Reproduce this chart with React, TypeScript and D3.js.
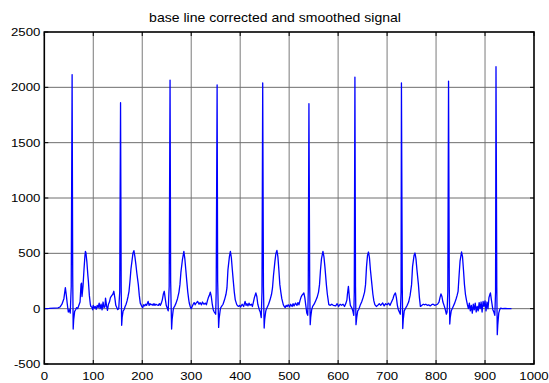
import * as d3 from "d3";

// sample index / amplitude pairs (baseline corrected ECG)
const ecgPoints: [number, number][] = [
  // beats 1-2
  [0, 0], [10, 2], [20, 5], [28, 8], [32, 15], [36, 40], [40, 90], [43, 190], [45, 120], [47, 40], [49, -30],
  [51, -10], [53, -40], [55, 200], [56.8, 2115], [58, 300], [59, -184], [60, -100], [62, -24], [64, -10], [66, 10],
  [68, 0], [71, 36], [73, 60], [75, 220], [76, 230], [77, 110], [79, 200], [81, 350], [83, 480], [84, 518],
  [85, 505], [87, 420], [89, 300], [90, 250], [92, 120], [94, 40], [95, 20], [97, 15], [99, -10],
  [100, 30], [102, 5], [104, 20], [106, -5], [108, 30], [110, 10], [112, 50], [114, 0], [116, 40], [118, -10],
  [120, 60], [122, 10], [124, 20], [125, 96], [127, 30], [129, -15], [131, 40], [133, 60], [135, 100], [138, 120],
  [140, 130], [142, 157], [144, 100], [146, 30], [148, 10], [150, -9], [152, 0], [154, 150], [155.7, 1861],
  [157, 200], [158, -150], [159, -80], [161, -20], [163, -9], [165, 20], [167, 40], [169, 70], [171, 110],
  [173, 157], [175, 250], [177, 360], [179, 430], [181, 500], [183, 524], [185, 470], [187, 400], [189, 320],
  [192, 217], [194, 120], [196, 50], [199, 21],
  // beats 3-4
  [201, 10], [203, 35], [205, 25], [207, 40], [209, 30], [212, 66], [214, 30], [216, 45], [218, 35], [220, 40],
  [222, 30], [224, 45], [226, 30], [228, 40], [230, 35], [233, 30], [235, 45], [237, 30], [239, 50], [241, 80],
  [243, 130], [245, 157], [247, 90], [249, 30], [251, 6], [253, -20], [255, 200], [256.8, 2066], [258, 250],
  [260, -184], [261, -100], [263, -20], [264, 6], [266, 20], [269, 50], [272, 90], [275, 150], [277, 217],
  [279, 330], [282, 440], [285, 518], [287, 450], [289, 350], [291, 247], [293, 150], [295, 80], [296, 51],
  [298, 20],
  [300, 0], [302, 20], [304, 40], [306, 55], [308, 35], [310, 50], [313, 66], [316, 40], [318, 55], [321, 35],
  [323, 60], [326, 40], [329, 50], [331, 35], [333, 70], [335, 100], [337, 120], [339, 150], [341, 110],
  [343, 40], [345, -9], [347, -30], [350, -50], [351, 150], [352.9, 2021], [354, 250], [356, -169], [357, -90],
  [359, -20], [360, 6], [362, 20], [365, 40], [368, 80], [371, 130], [373, 187], [375, 350], [378, 470],
  [380, 518], [382, 460], [384, 350], [386, 247], [388, 150], [390, 80], [393, 36], [395, 25], [397, 21],
  // beats 5-6
  [399, 30], [401, 15], [404, 40], [407, 20], [410, 66], [412, 30], [414, 45], [416, 25], [418, 50], [420, 30],
  [423, 40], [425, 20], [427, 60], [429, 100], [432, 142], [434, 110], [436, 40], [439, -9], [441, -30],
  [443, -80], [444.5, 150], [446, 2039], [447.5, 200], [449, -175], [450, -100], [452, -30], [453, -9],
  [455, 10], [458, 40], [461, 80], [464, 130], [466, 187], [468, 300], [471, 430], [473, 500], [475, 527],
  [477, 470], [479, 350], [481, 217], [483, 150], [485, 90], [488, 36], [490, 20], [492, 10], [494, 30],
  [496, 20],
  [498, 35], [501, 15], [503, 40], [506, 20], [508, 45], [510, 25], [513, 50], [516, 30], [518, 55], [520, 35],
  [522, 70], [524, 100], [526, 120], [528, 130], [530, 142], [532, 100], [534, 30], [536, -39], [538, -60],
  [539, 150], [540.4, 1852], [542, 200], [543, -145], [544, -80], [546, -10], [548, 21], [551, 40], [554, 70],
  [557, 100], [560, 150], [562, 217], [564, 350], [566, 450], [569, 518], [571, 470], [573, 380], [576, 217],
  [578, 130], [581, 36], [584, 30], [587, 40], [590, 30],
  // beats 7-8
  [595, 25], [598, 45], [601, 20], [604, 40], [607, 30], [610, 40], [613, 20], [616, 50], [618, 80], [619, 130],
  [621, 202], [623, 100], [625, 30], [628, 6], [630, -20], [632, -60], [633, 150], [634.3, 2093], [635.5, 200],
  [636.5, -145], [638, -80], [640, -20], [642, -9], [645, 30], [648, 60], [651, 100], [654, 150], [656, 217],
  [658, 380], [660, 480], [662, 512], [664, 460], [666, 350], [669, 217], [671, 130], [673, 70], [675, 36],
  [678, 20], [681, 30], [684, 45], [687, 30],
  [691, 51], [694, 25], [697, 45], [700, 35], [703, 50], [706, 30], [709, 60], [712, 90], [714, 120], [717, 142],
  [719, 100], [721, 30], [723, -9], [725, -30], [727, -50], [728.5, 150], [729.3, 2039], [731, 200],
  [732, -180], [733, -100], [735, -20], [738, 6], [741, 30], [744, 60], [747, 120], [750, 217], [752, 380],
  [755, 480], [757, 503], [759, 450], [761, 350], [764, 217], [766, 100], [768, 21], [771, 30], [774, 40],
  [777, 35],
  // beats 9-10
  [779, 40], [782, 30], [785, 35], [788, 25], [791, 36], [794, 40], [797, 30], [800, 35], [803, 40], [806, 60],
  [808, 100], [810, 133], [812, 110], [814, 60], [817, 21], [819, -10], [821, -50], [822.5, -30], [824, 150],
  [825.5, 2057], [827, 200], [828, -139], [829, -80], [831, -20], [832, -9], [835, 20], [838, 50], [841, 90],
  [843, 120], [845, 157], [847, 300], [849, 430], [852, 512], [854, 470], [856, 350], [858, 217], [860, 130],
  [862, 80], [864, 36], [866, 0],
  [868, 50], [870, -20], [872, 30], [874, -40], [876, 40], [878, -10], [880, 50], [882, -30], [884, 20],
  [886, -20], [888, 55], [890, 0], [892, 60], [894, -30], [896, 65], [898, 20], [900, 70], [902, -20],
  [904, 60], [906, 0], [908, 100], [910, 130], [911, 142], [913, 80], [915, 20], [916, -9], [918, -30],
  [920, -60], [921.5, 150], [922.4, 2186], [924, 200], [925, -235], [926, -150], [928, -40], [930, -9],
  [932, 5], [935, 0], [941, 2], [946, 0], [954, 0],
];

const xTicks = [0, 100, 200, 300, 400, 500, 600, 700, 800, 900, 1000];
const yTicks = [-500, 0, 500, 1000, 1500, 2000, 2500];
const title = "base line corrected and smoothed signal";

const W = 549;
const H = 383;
const left = 44.3;
const right = 534;
const top = 32;
const bottom = 364;
const font = "'Liberation Sans', Arial, Helvetica, sans-serif";

export default function App() {
  const x = d3.scaleLinear().domain([0, 1000]).range([left, right]);
  const y = d3.scaleLinear().domain([-500, 2500]).range([bottom, top]);
  const line = d3
    .line<[number, number]>()
    .x((d) => x(d[0]))
    .y((d) => y(d[1]));

  return (
    <svg
      width={W}
      height={H}
      style={{ position: "absolute", left: 0, top: 0, background: "#fff" }}
    >
      <rect x={0} y={0} width={W} height={H} fill="#fff" />
      {/* grid */}
      {xTicks.slice(1, -1).map((t) => (
        <line key={"gx" + t} x1={x(t)} x2={x(t)} y1={top} y2={bottom} stroke="#7a7a7a" strokeWidth={1} />
      ))}
      {yTicks.slice(1, -1).map((t) => (
        <line key={"gy" + t} x1={left} x2={right} y1={y(t)} y2={y(t)} stroke="#6e6e6e" strokeWidth={1} />
      ))}
      {/* inward ticks on all sides */}
      {xTicks.map((t) => (
        <g key={"tx" + t}>
          <line x1={x(t)} x2={x(t)} y1={bottom} y2={bottom - 4} stroke="#000" />
          <line x1={x(t)} x2={x(t)} y1={top} y2={top + 4} stroke="#000" />
        </g>
      ))}
      {yTicks.map((t) => (
        <g key={"ty" + t}>
          <line x1={left} x2={left + 4} y1={y(t)} y2={y(t)} stroke="#000" />
          <line x1={right} x2={right - 4} y1={y(t)} y2={y(t)} stroke="#000" />
        </g>
      ))}
      <path d={line(ecgPoints) || ""} fill="none" stroke="#0000ff" strokeWidth={1.3} strokeLinejoin="round" />
      <rect x={left} y={top} width={right - left} height={bottom - top} fill="none" stroke="#000" strokeWidth={1.6} />
      {/* tick labels */}
      {xTicks.map((t) => (
        <text
          key={"lx" + t}
          transform={`translate(${x(t)},${bottom + 16}) scale(1.2,1)`}
          textAnchor="middle"
          fontFamily={font}
          fontSize={11}
          fill="#000"
        >
          {t}
        </text>
      ))}
      {yTicks.map((t) => (
        <text
          key={"ly" + t}
          transform={`translate(${left - 4},${y(t) + 4}) scale(1.2,1)`}
          textAnchor="end"
          fontFamily={font}
          fontSize={11}
          fill="#000"
        >
          {t}
        </text>
      ))}
      <text
        transform={`translate(275,22) scale(1.17,1)`}
        textAnchor="middle"
        fontFamily={font}
        fontSize={12}
        fill="#000"
      >
        {title}
      </text>
    </svg>
  );
}
